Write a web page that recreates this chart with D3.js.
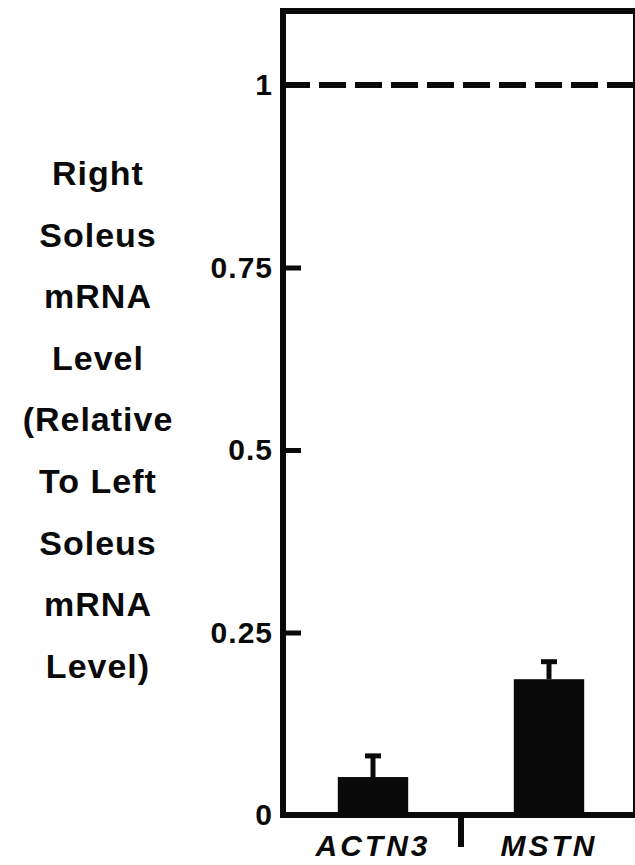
<!DOCTYPE html>
<html>
<head>
<meta charset="utf-8">
<script src="https://cdn.jsdelivr.net/npm/d3@7"></script>
<style>
  html, body { margin: 0; padding: 0; background: #fff; }
  svg { display: block; font-family: "Liberation Sans", Arial, Helvetica, sans-serif; }
</style>
</head>
<body>
<div id="chart"></div>
<script>
// data
const genes = ['ACTN3', 'MSTN'];
const ratios = [0.052, 0.186];
const sems = [0.029, 0.024];
const yTicks = [0, 0.25, 0.5, 0.75, 1];
const yTickLabels = ['0', '0.25', '0.5', '0.75', '1'];
const yLabelLines = ['Right', 'Soleus', 'mRNA', 'Level', '(Relative', 'To Left', 'Soleus', 'mRNA', 'Level)'];
const refLevel = 1;

const width = 635, height = 865;
const ink = '#0a0a0a';

const svg = d3.select('#chart').append('svg')
  .attr('width', width)
  .attr('height', height);

// scales
const y = d3.scaleLinear().domain([0, 1.1]).range([815, 12]);
const x = d3.scaleBand()
  .domain(genes)
  .range([285, 637])
  .paddingInner(0.6)
  .paddingOuter(0.3);

const plotLeft = 283, plotRight = 636;

// bars
const rows = genes.map((g, i) => ({ gene: g, value: ratios[i], err: sems[i] }));

svg.append('g').selectAll('rect')
  .data(rows)
  .join('rect')
  .attr('x', d => x(d.gene))
  .attr('y', d => y(d.value))
  .attr('width', x.bandwidth())
  .attr('height', d => y(0) - y(d.value))
  .attr('fill', ink);

// error bars (upper only)
const eb = svg.append('g').attr('stroke', ink).attr('stroke-width', 5);
eb.selectAll('line.stem')
  .data(rows)
  .join('line')
  .attr('class', 'stem')
  .attr('x1', d => x(d.gene) + x.bandwidth() / 2)
  .attr('x2', d => x(d.gene) + x.bandwidth() / 2)
  .attr('y1', d => y(d.value))
  .attr('y2', d => y(d.value + d.err));
eb.selectAll('line.cap')
  .data(rows)
  .join('line')
  .attr('class', 'cap')
  .attr('x1', d => x(d.gene) + x.bandwidth() / 2 - 8)
  .attr('x2', d => x(d.gene) + x.bandwidth() / 2 + 8)
  .attr('y1', d => y(d.value + d.err))
  .attr('y2', d => y(d.value + d.err));

// dashed reference line at 1
svg.append('line')
  .attr('x1', plotLeft)
  .attr('x2', plotRight)
  .attr('y1', y(refLevel))
  .attr('y2', y(refLevel))
  .attr('stroke', ink)
  .attr('stroke-width', 6)
  .attr('stroke-dasharray', '27 9');

// frame
svg.append('rect')
  .attr('x', plotLeft)
  .attr('y', y(1.1) - 1)
  .attr('width', plotRight - plotLeft)
  .attr('height', y(0) - y(1.1) + 1)
  .attr('fill', 'none')
  .attr('stroke', ink)
  .attr('stroke-width', 6);

// y axis ticks (inward)
const yAxis = svg.append('g')
  .attr('transform', `translate(${plotLeft},0)`)
  .call(d3.axisLeft(y)
    .tickValues(yTicks)
    .tickSize(-18)
    .tickPadding(10)
    .tickFormat((d, i) => yTickLabels[i]));
yAxis.select('.domain').remove();
yAxis.selectAll('.tick line').attr('stroke', ink).attr('stroke-width', 5);
yAxis.selectAll('.tick text')
  .attr('fill', ink)
  .style('font-size', '30px')
  .style('font-weight', 'bold')
  .style('letter-spacing', '1px');

// x axis: category labels + divider tick
const xAxis = svg.append('g')
  .attr('transform', `translate(0,${y(0)})`)
  .call(d3.axisBottom(x).tickSize(0).tickPadding(20));
xAxis.select('.domain').remove();
xAxis.selectAll('.tick text')
  .attr('fill', ink)
  .style('font-size', '30px')
  .style('font-weight', 'bold')
  .style('font-style', 'italic')
  .style('letter-spacing', '3px');

svg.append('line')
  .attr('x1', x(genes[1]) - x.step() * x.paddingInner() / 2)
  .attr('x2', x(genes[1]) - x.step() * x.paddingInner() / 2)
  .attr('y1', y(0))
  .attr('y2', y(0) + 32)
  .attr('stroke', ink)
  .attr('stroke-width', 6);

// y axis title, stacked lines
svg.append('g').selectAll('text')
  .data(yLabelLines)
  .join('text')
  .attr('x', 98)
  .attr('y', (d, i) => 185 + i * 61.6)
  .attr('text-anchor', 'middle')
  .attr('fill', ink)
  .style('font-size', '34px')
  .style('font-weight', 'bold')
  .style('letter-spacing', '1px')
  .text(d => d);
</script>
</body>
</html>
